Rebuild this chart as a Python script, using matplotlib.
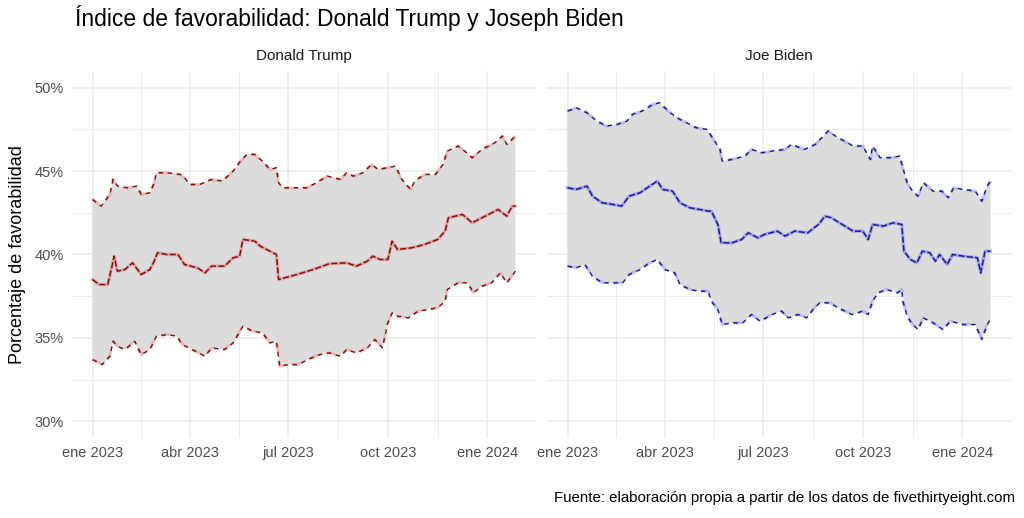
import datetime as dt
import matplotlib
matplotlib.use("Agg")
import matplotlib.pyplot as plt
import matplotlib.dates as mdates

plt.rcParams['font.family'] = ['Liberation Sans', 'DejaVu Sans']

#%% Data (days since 1 Jan 2023, % favourable)
START = dt.date(2023, 1, 1)

trump_mid_days = [0, 6, 14, 18, 20, 23, 30, 37, 45, 53, 57, 60, 69, 79, 85, 97, 104, 110, 122, 130,
                  136, 139, 150, 155, 164, 170, 172, 189, 204, 219, 235, 244, 254, 259, 266, 273, 277, 282, 295, 307,
                  319, 326, 329, 342, 351, 363, 375, 383, 388, 391]
trump_mid = [38.5, 38.2, 38.2, 39.3, 39.9, 39.0, 39.1, 39.5, 38.8, 39.1, 39.6, 40.1, 40.0, 40.0, 39.4, 39.2, 38.9, 39.3, 39.3, 39.8,
             39.9, 40.9, 40.8, 40.5, 40.2, 40.0, 38.5, 38.8, 39.1, 39.45, 39.5, 39.3, 39.6, 39.9, 39.7, 39.7, 40.8, 40.3, 40.4, 40.6,
             40.9, 41.4, 42.2, 42.4, 41.9, 42.3, 42.7, 42.3, 42.9, 42.9]

trump_up_days = [0, 8, 16, 19, 23, 32, 41, 45, 53, 57, 59, 69, 81, 85, 90, 99, 110, 120, 130, 138,
                 143, 150, 157, 164, 170, 172, 176, 185, 198, 207, 217, 229, 235, 241, 250, 258, 264, 280, 286, 294,
                 298, 307, 317, 324, 328, 338, 344, 351, 360, 372, 379, 383, 391]
trump_up = [43.3, 42.9, 43.6, 44.5, 44.1, 44.0, 44.1, 43.6, 43.7, 44.3, 44.9, 44.9, 44.8, 44.6, 44.2, 44.2, 44.5, 44.4, 45.0, 45.7,
            46.0, 46.0, 45.6, 45.1, 45.2, 44.3, 44.0, 44.0, 44.0, 44.3, 44.7, 44.5, 44.9, 44.7, 44.9, 45.4, 45.1, 45.3, 44.5, 43.9,
            44.4, 44.8, 44.8, 45.4, 46.2, 46.5, 46.2, 45.8, 46.3, 46.7, 47.1, 46.6, 47.1]

trump_lo_days = [0, 9, 16, 19, 23, 30, 39, 45, 53, 59, 69, 78, 83, 92, 104, 110, 122, 130, 139, 148,
                 157, 164, 170, 173, 181, 190, 199, 210, 219, 229, 235, 244, 254, 261, 268, 273, 277, 282, 292, 301,
                 310, 319, 326, 328, 338, 347, 352, 360, 369, 377, 383, 391]
trump_lo = [33.7, 33.4, 33.9, 34.8, 34.5, 34.3, 34.8, 34.0, 34.3, 35.1, 35.2, 35.1, 34.6, 34.3, 33.9, 34.4, 34.3, 34.7, 35.7, 35.4,
            35.3, 34.7, 34.8, 33.3, 33.4, 33.4, 33.7, 34.0, 34.1, 33.9, 34.3, 34.1, 34.4, 34.9, 34.4, 35.9, 36.5, 36.3, 36.2, 36.6,
            36.7, 36.8, 37.2, 37.9, 38.3, 38.3, 37.7, 38.1, 38.3, 38.9, 38.3, 39.0]

biden_mid_days = [0, 8, 18, 23, 32, 42, 50, 57, 67, 76, 83, 88, 97, 104, 113, 122, 130, 133, 139, 142,
                  152, 161, 167, 176, 182, 194, 201, 210, 222, 232, 238, 244, 254, 264, 273, 278, 282, 292, 301, 309,
                  311, 317, 323, 328, 335, 340, 344, 351, 356, 366, 379, 382, 386, 391]
biden_mid = [44.0, 43.9, 44.1, 43.5, 43.1, 43.0, 42.9, 43.5, 43.7, 44.1, 44.4, 43.9, 43.8, 43.1, 42.8, 42.7, 42.6, 42.6, 41.8, 40.7,
             40.7, 40.9, 41.3, 41.0, 41.2, 41.4, 41.1, 41.4, 41.3, 41.8, 42.3, 42.2, 41.8, 41.4, 41.4, 40.9, 41.8, 41.7, 41.9, 41.8,
             40.2, 39.7, 39.5, 40.2, 40.1, 39.6, 40.0, 39.4, 40.0, 39.9, 39.8, 38.9, 40.2, 40.2]

biden_up_days = [0, 8, 18, 27, 36, 46, 55, 60, 69, 79, 85, 93, 101, 110, 119, 129, 136, 141, 143, 152,
                 164, 170, 180, 189, 201, 207, 219, 229, 235, 241, 250, 259, 264, 273, 280, 282, 289, 298, 307, 310,
                 314, 319, 324, 329, 338, 346, 352, 357, 366, 377, 383, 388, 391]
biden_up = [48.6, 48.8, 48.5, 48.0, 47.7, 47.8, 48.0, 48.4, 48.6, 49.0, 49.1, 48.6, 48.2, 47.9, 47.6, 47.5, 46.8, 46.3, 45.6, 45.7,
            45.9, 46.3, 46.1, 46.2, 46.3, 46.6, 46.3, 46.6, 47.0, 47.4, 47.0, 46.7, 46.5, 46.5, 45.7, 46.5, 45.8, 45.8, 45.9, 45.2,
            44.3, 43.8, 43.5, 44.3, 43.8, 43.8, 43.4, 44.0, 43.9, 43.8, 43.2, 44.1, 44.4]

biden_lo_days = [0, 8, 16, 23, 32, 42, 51, 57, 67, 76, 83, 90, 99, 104, 113, 122, 130, 133, 139, 143,
                 152, 162, 170, 178, 189, 198, 204, 213, 221, 227, 233, 243, 250, 263, 273, 278, 282, 287, 295, 305,
                 309, 310, 314, 319, 324, 329, 338, 347, 354, 366, 377, 383, 388, 391]
biden_lo = [39.3, 39.2, 39.4, 38.7, 38.3, 38.3, 38.3, 38.8, 39.1, 39.5, 39.7, 39.1, 38.9, 38.2, 37.9, 37.8, 37.8, 37.2, 36.7, 35.8,
            35.9, 35.9, 36.4, 36.0, 36.4, 36.6, 36.2, 36.4, 36.2, 36.7, 37.1, 37.1, 36.8, 36.4, 36.6, 36.4, 37.2, 37.7, 37.9, 37.7,
            37.9, 37.2, 36.3, 35.8, 35.5, 36.2, 35.9, 35.5, 36.0, 35.8, 35.8, 34.9, 35.8, 36.1]

panel_titles = ["Donald Trump", "Joe Biden"]
tick_dates = [dt.date(2023, 1, 1), dt.date(2023, 4, 1), dt.date(2023, 7, 1), dt.date(2023, 10, 1), dt.date(2024, 1, 1)]
tick_labels = ["ene 2023", "abr 2023", "jul 2023", "oct 2023", "ene 2024"]
minor_dates = [dt.date(2023, 2, 15), dt.date(2023, 5, 16), dt.date(2023, 8, 16), dt.date(2023, 11, 16)]
y_ticks = [30, 35, 40, 45, 50]
y_minor = [32.5, 37.5, 42.5, 47.5]


def to_dates(days):
    return [START + dt.timedelta(days=d) for d in days]


#%% Plotting
fig = plt.figure(figsize=(10.24, 5.18), dpi=100)
fig.patch.set_facecolor("white")

panels = [
    (trump_lo_days, trump_lo, trump_mid_days, trump_mid, trump_up_days, trump_up, "#8b1010", "#e07a7a"),
    (biden_lo_days, biden_lo, biden_mid_days, biden_mid, biden_up_days, biden_up, "#1c1ca0", "#7a7aee"),
]
lefts = [72 / 1024, 547 / 1024]
axes = []
for i, (ld, lv, md, mv, ud, uv, dark, light) in enumerate(panels):
    ax = fig.add_axes([lefts[i], 1 - 438 / 518, 464 / 1024, 367 / 518])
    axes.append(ax)

    # ribbon polygon: upper forward, lower backward
    px = to_dates(ud) + to_dates(ld)[::-1]
    py = uv + lv[::-1]
    ax.fill(px, py, color="#dcdcdc", lw=0, zorder=2)

    for d, v in [(ud, uv), (ld, lv)]:
        ax.plot(to_dates(d), v, color=light, lw=2.2, alpha=0.4, dashes=(3, 3), zorder=3)
        ax.plot(to_dates(d), v, color=dark, lw=1.1, dashes=(3, 3), zorder=4)
    ax.plot(to_dates(md), mv, color=light, lw=2.4, alpha=0.55, zorder=3)
    ax.plot(to_dates(md), mv, color=dark, lw=1.1, dashes=(4, 1.5), zorder=4)

    ax.set_xlim(START - dt.timedelta(days=19.5), START + dt.timedelta(days=410.6))
    ax.set_ylim(29, 51)
    ax.set_xticks(tick_dates)
    ax.set_xticklabels(tick_labels)
    ax.set_xticks(minor_dates, minor=True)
    ax.set_yticks(y_ticks)
    ax.set_yticks(y_minor, minor=True)
    if i == 0:
        ax.set_yticklabels([f"{t}%" for t in y_ticks])
    else:
        ax.set_yticklabels([])
    ax.grid(True, which="major", color="#ebebeb", lw=1.1, zorder=0)
    ax.grid(True, which="minor", color="#ebebeb", lw=0.7, zorder=0)
    ax.set_axisbelow(True)
    ax.tick_params(which="both", length=0, labelsize=10.5, labelcolor="#4d4d4d", pad=6)
    for s in ax.spines.values():
        s.set_visible(False)
    ax.set_title(panel_titles[i], fontsize=11, color="#1a1a1a", pad=8)

axes[0].set_ylabel("Porcentaje de favorabilidad", fontsize=13, color="black", labelpad=6)

fig.text(75 / 1024, 1 - 18 / 518, "Índice de favorabilidad: Donald Trump y Joseph Biden",
         fontsize=16.5, ha="left", va="center")
fig.text(1015 / 1024, 1 - 498 / 518,
         "Fuente: elaboración propia a partir de los datos de fivethirtyeight.com",
         fontsize=10.8, ha="right", va="center")

fig.savefig("out.png", dpi=100)
